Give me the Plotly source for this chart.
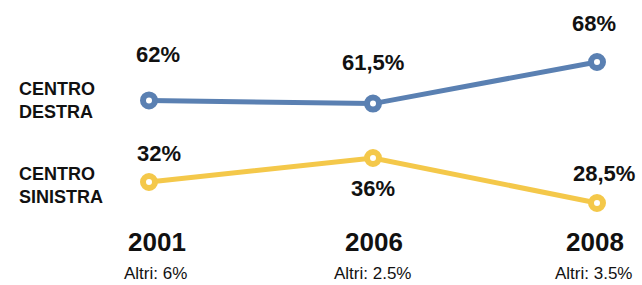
import plotly.graph_objects as go

years = ["2001", "2006", "2008"]
centro_destra = [62, 61.5, 68]
centro_sinistra = [32, 36, 28.5]
destra_labels = ["62%", "61,5%", "68%"]
sinistra_labels = ["32%", "36%", "28,5%"]
altri_labels = ["Altri: 6%", "Altri: 2.5%", "Altri: 3.5%"]
series_names = ["CENTRO<br>DESTRA", "CENTRO<br>SINISTRA"]

W, H = 642, 285
BLUE = "#5a80b2"
YELLOW = "#f4c84a"
FONT = "Arial, Liberation Sans, Helvetica, sans-serif"

xi = list(range(len(years)))

fig = go.Figure()
fig.add_trace(go.Scatter(
    x=xi, y=centro_destra, mode="lines+markers", yaxis="y",
    line=dict(color=BLUE, width=5),
    marker=dict(symbol="circle", size=12, color="white", line=dict(color=BLUE, width=6)),
    hoverinfo="skip", showlegend=False))
fig.add_trace(go.Scatter(
    x=xi, y=centro_sinistra, mode="lines+markers", yaxis="y2",
    line=dict(color=YELLOW, width=5),
    marker=dict(symbol="circle", size=12, color="white", line=dict(color=YELLOW, width=6)),
    hoverinfo="skip", showlegend=False))

annotations = []
# value labels
d_shift = [(9, 46), (0, 41), (-3, 39)]
s_shift = [(10, 29), (0, -30), (7, 30)]
for i in xi:
    annotations.append(dict(x=i, y=centro_destra[i], xref="x", yref="y",
                            text="<b>%s</b>" % destra_labels[i], showarrow=False,
                            xshift=d_shift[i][0], yshift=d_shift[i][1],
                            font=dict(family=FONT, size=22, color="#111")))
    annotations.append(dict(x=i, y=centro_sinistra[i], xref="x", yref="y2",
                            text="<b>%s</b>" % sinistra_labels[i], showarrow=False,
                            xshift=s_shift[i][0], yshift=s_shift[i][1],
                            font=dict(family=FONT, size=22, color="#111")))
# year labels
y_xshift = [8, 1, -2]
for i in xi:
    annotations.append(dict(x=i, y=1 - 242 / H, xref="x", yref="paper",
                            text="<b>%s</b>" % years[i], showarrow=False,
                            xshift=y_xshift[i], yanchor="middle",
                            font=dict(family=FONT, size=26, color="#111")))
    annotations.append(dict(x=i, y=1 - 273 / H, xref="x", yref="paper",
                            text=altri_labels[i], showarrow=False, borderpad=0,
                            xshift=y_xshift[i] - 2, yanchor="middle",
                            font=dict(family=FONT, size=17, color="#111")))
# series labels
for name, py in zip(series_names, [100, 185]):
    annotations.append(dict(x=17 / W, y=1 - py / H, xref="paper", yref="paper",
                            text="<b>%s</b>" % name, showarrow=False,
                            xanchor="left", yanchor="middle", align="left",
                            font=dict(family=FONT, size=18, color="#111")))

# axis ranges chosen so each series sits where it does in the reference
k1 = 6.4
r1_top = 68 + 62 / k1
r1_bot = 68 - (H - 62) / k1
k2 = 6.0
r2_top = 36 + 158 / k2
r2_bot = 36 - (H - 158) / k2
kx = 224
x0 = -149 / kx
x1 = x0 + W / kx

fig.update_layout(
    width=W, height=H,
    margin=dict(l=0, r=0, t=0, b=0),
    paper_bgcolor="white", plot_bgcolor="white",
    xaxis=dict(range=[x0, x1], visible=False, fixedrange=True),
    yaxis=dict(range=[r1_bot, r1_top], visible=False, fixedrange=True),
    yaxis2=dict(range=[r2_bot, r2_top], visible=False, overlaying="y", fixedrange=True),
    annotations=annotations,
)
fig.write_html("out.html", config={"displayModeBar": False},
               post_script="document.body.style.margin='0';document.body.style.padding='0';document.body.style.overflow='hidden';")
